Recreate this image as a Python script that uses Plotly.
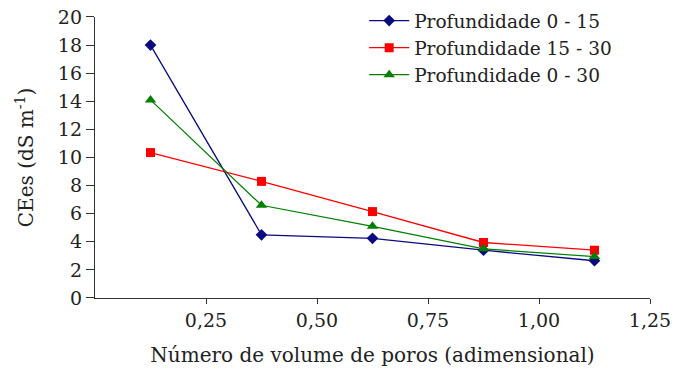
import plotly.graph_objects as go

x_vals = [0.125, 0.375, 0.625, 0.875, 1.125]
prof_0_15 = [18.0, 4.5, 4.25, 3.4, 2.65]
prof_15_30 = [10.35, 8.3, 6.15, 3.95, 3.4]
prof_0_30 = [14.1, 6.6, 5.1, 3.5, 2.95]

series_names = ["Profundidade 0 - 15", "Profundidade 15 - 30", "Profundidade 0 - 30"]
x_tickvals = [0.25, 0.5, 0.75, 1.0, 1.25]
x_ticktext = ["0,25", "0,50", "0,75", "1,00", "1,25"]
y_tickvals = list(range(0, 21, 2))

font_family = "DejaVu Serif"

fig = go.Figure()
styles = [
    (prof_0_15, "#0b0b80", "diamond", 9),
    (prof_15_30, "#ff0000", "square", 9),
    (prof_0_30, "#008000", "triangle-up", 10),
]
for name, (vals, color, sym, size) in zip(series_names, styles):
    fig.add_trace(go.Scatter(
        x=x_vals, y=vals, mode="lines+markers", name=name,
        line=dict(color=color, width=1.3),
        marker=dict(symbol=sym, size=size, color=color),
    ))

fig.update_layout(
    width=681, height=376,
    margin=dict(l=95, r=31, t=0, b=78),
    paper_bgcolor="white", plot_bgcolor="white",
    font=dict(family=font_family, size=18, color="#222"),
    showlegend=True,
    legend=dict(
        x=0.485, y=0.993, xanchor="left", yanchor="top",
        font=dict(family=font_family, size=18.5, color="#222"),
        bgcolor="rgba(0,0,0,0)", tracegroupgap=0,
        itemwidth=40,
    ),
    xaxis=dict(
        range=[0, 1.25], tickvals=x_tickvals, ticktext=x_ticktext,
        showline=True, linecolor="#333", linewidth=1.3,
        ticks="outside", ticklen=5, tickcolor="#333",
        showgrid=False, zeroline=False, automargin=False,
        tickfont=dict(family=font_family, size=19, color="#222"),
        title=dict(text="Número de volume de poros (adimensional)",
                   font=dict(family=font_family, size=20, color="#222"), standoff=18),
    ),
    yaxis=dict(
        range=[0, 20], tickvals=y_tickvals, domain=[0, 0.943],
        showline=True, linecolor="#333", linewidth=1.3,
        ticks="outside", ticklen=8, tickcolor="#333",
        showgrid=False, zeroline=False, automargin=False,
        tickfont=dict(family=font_family, size=19, color="#222"),
        title=dict(text="CEes (dS m<sup>-1</sup>)",
                   font=dict(family=font_family, size=20, color="#222"), standoff=18),
    ),
)

fig.write_html("out.html")
